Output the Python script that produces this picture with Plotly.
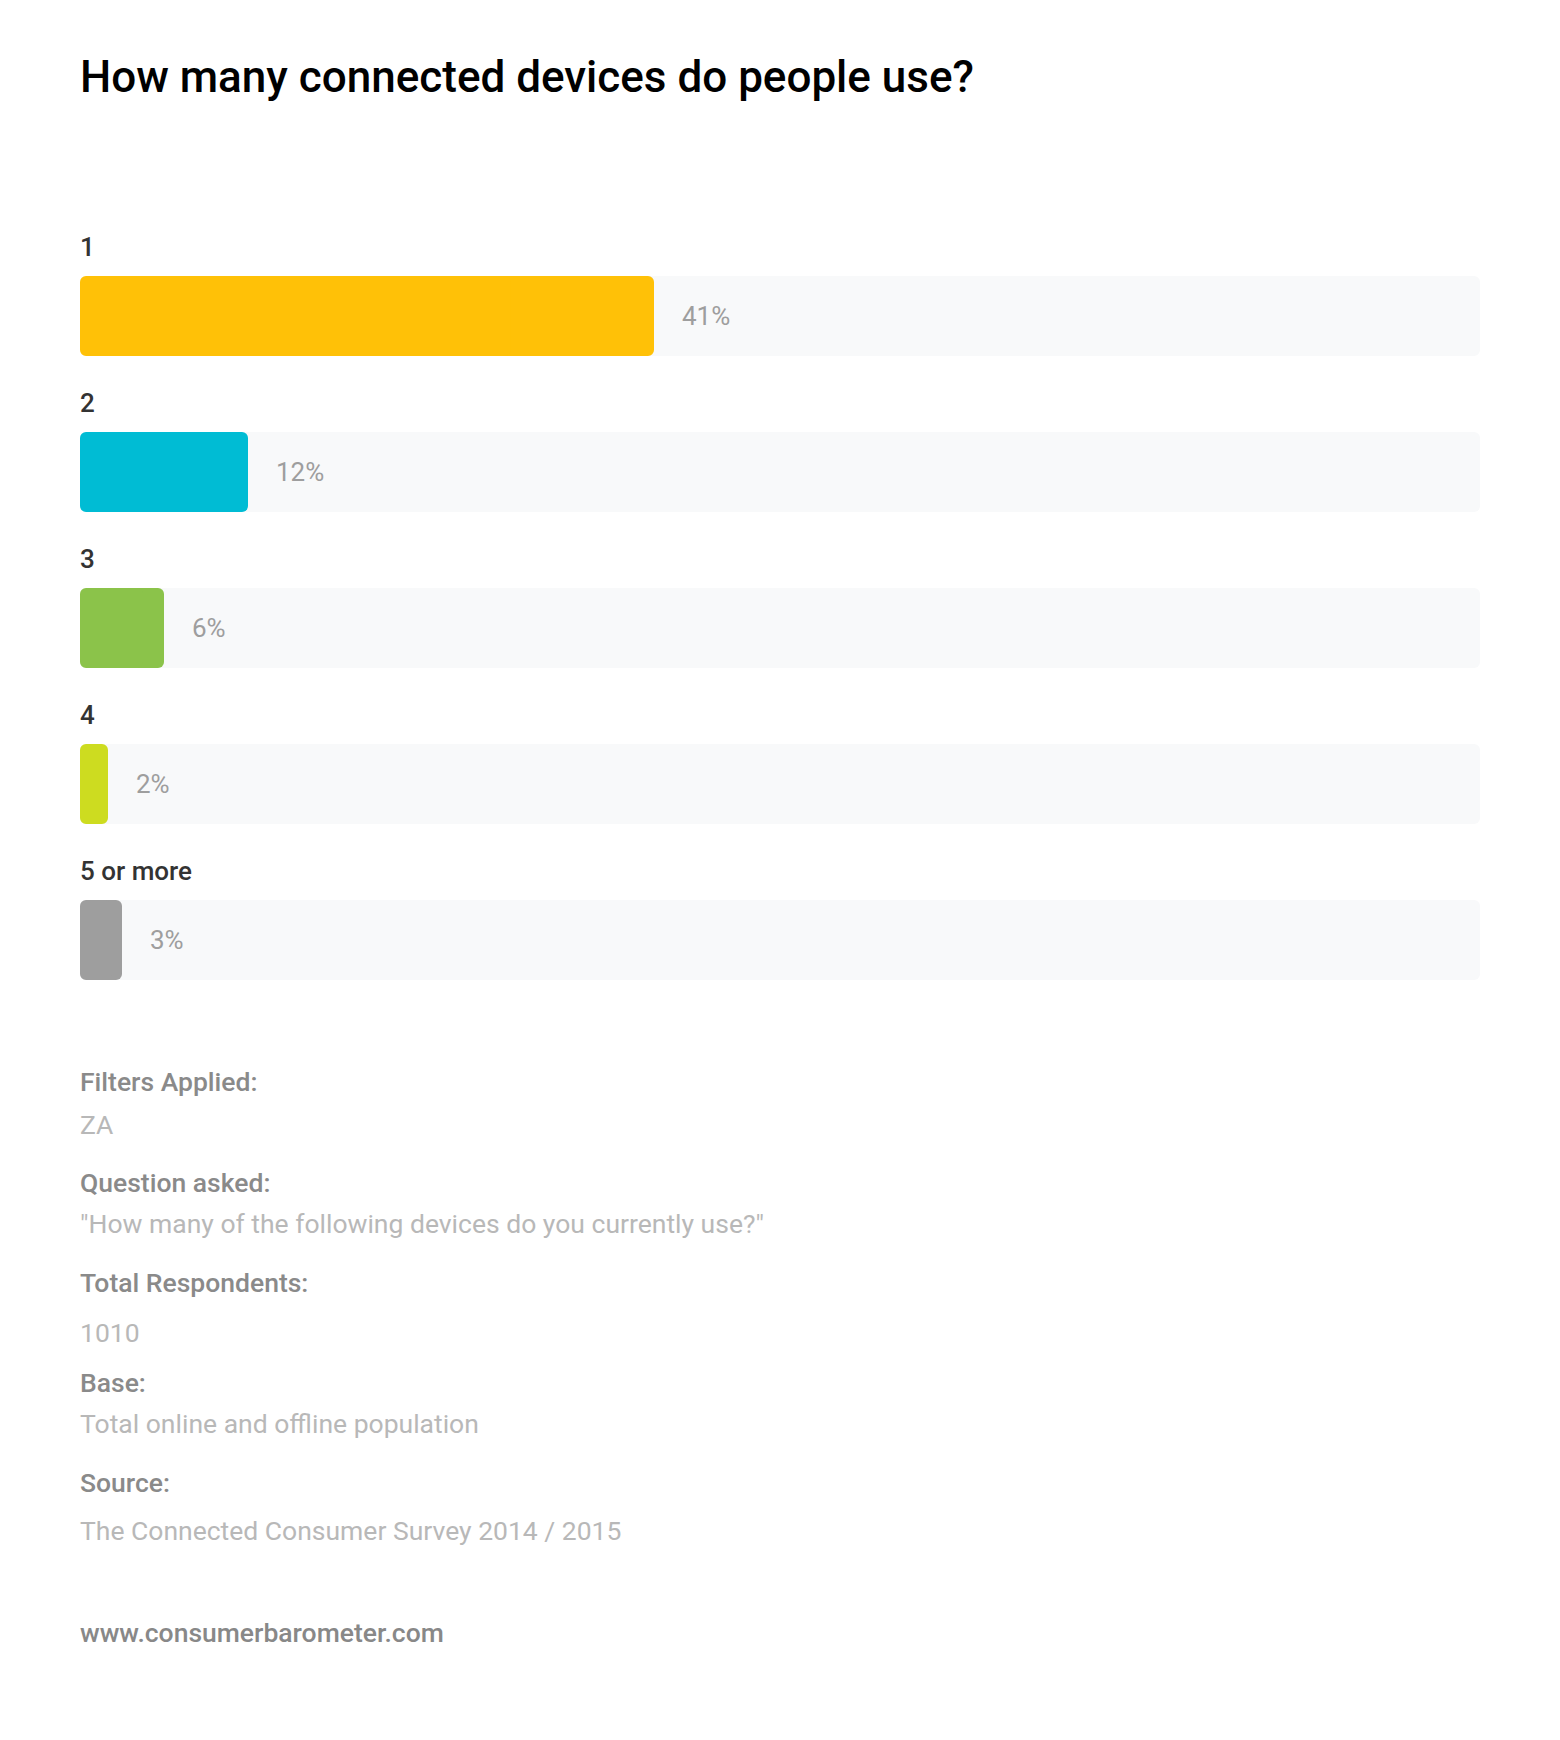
import plotly.graph_objects as go

# survey data
categories = ["1", "2", "3", "4", "5 or more"]
shares = [41, 12, 6, 2, 3]
bar_colors = ["#FFC107", "#00BCD4", "#8BC34A", "#CDDC20", "#9E9E9E"]

title_text = "How many connected devices do people use?"
footer_heads = ["Filters Applied:", "Question asked:", "Total Respondents:", "Base:", "Source:"]
footer_values = ["ZA", "\"How many of the following devices do you currently use?\"", "1010",
                 "Total online and offline population", "The Connected Consumer Survey 2014 / 2015"]
site_text = "www.consumerbarometer.com"

W, H = 1560, 1740
OFF = 8  # page body margin
TOP, ROW = 238 - OFF, 156
plot_h = ROW * len(categories)
bottom_px = TOP + plot_h
FONT = "Roboto"
XS = -2  # cancel annotation padding so text lines up with the bars


def py(p):
    # pixel y on the page -> paper coordinate
    return (bottom_px - (p - OFF)) / plot_h


ypos = list(range(len(categories)))
fig = go.Figure()


def rounded_bar(vals, colors):
    # two overlapping halves so both ends get rounded corners
    fig.add_trace(go.Bar(y=ypos, x=[v * 0.75 for v in vals], base=[v * 0.25 for v in vals],
                         orientation="h", marker=dict(color=colors, cornerradius=6, line_width=0),
                         width=0.513, hoverinfo="skip", showlegend=False))
    fig.add_trace(go.Bar(y=ypos, x=[-v * 0.75 for v in vals], base=[v * 0.75 for v in vals],
                         orientation="h", marker=dict(color=colors, cornerradius=6, line_width=0),
                         width=0.513, hoverinfo="skip", showlegend=False))


rounded_bar([100] * len(categories), ["#F8F9FA"] * len(categories))
rounded_bar(shares, bar_colors)

ann = []
ann.append(dict(text=title_text, xref="paper", yref="paper", x=0, y=py(77), xshift=XS,
                xanchor="left", yanchor="middle", showarrow=False,
                font=dict(family=FONT, size=44, color="#000000", weight=500)))
for i, (c, v) in enumerate(zip(categories, shares)):
    ann.append(dict(text=c, xref="x", yref="y", x=0, y=i, yshift=69, xshift=XS, xanchor="left",
                    yanchor="middle", showarrow=False,
                    font=dict(family=FONT, size=26, color="#333333", weight=500)))
    ann.append(dict(text=f"{v}%", xref="x", yref="y", x=v, y=i, xshift=26, xanchor="left",
                    yanchor="middle", showarrow=False,
                    font=dict(family=FONT, size=26, color="#9E9E9E")))

head_px = [1081, 1182, 1282, 1382, 1482]
value_px = [1124, 1223, 1332, 1423, 1530]
for h, hp, v, vp in zip(footer_heads, head_px, footer_values, value_px):
    ann.append(dict(text=h, xref="paper", yref="paper", x=0, y=py(hp), xshift=XS,
                    xanchor="left", yanchor="middle", showarrow=False,
                    font=dict(family=FONT, size=26.5, color="#8A8A8A", weight=500)))
    ann.append(dict(text=v, xref="paper", yref="paper", x=0, y=py(vp), xshift=XS,
                    xanchor="left", yanchor="middle", showarrow=False,
                    font=dict(family=FONT, size=26.5, color="#B8B8B8")))
ann.append(dict(text=site_text, xref="paper", yref="paper", x=0, y=py(1632), xshift=XS,
                xanchor="left", yanchor="middle", showarrow=False,
                font=dict(family=FONT, size=26.5, color="#888888", weight=500)))

fig.update_layout(
    width=W, height=H,
    margin=dict(l=80 - OFF, r=W - 1400 - (80 - OFF), t=TOP, b=H - bottom_px, pad=0),
    barmode="overlay",
    paper_bgcolor="white", plot_bgcolor="white",
    xaxis=dict(range=[0, 100], visible=False, fixedrange=True),
    yaxis=dict(range=[len(categories) - 0.5, -0.5], visible=False, fixedrange=True),
    annotations=ann,
    showlegend=False,
)

fig.write_html("out.html")
